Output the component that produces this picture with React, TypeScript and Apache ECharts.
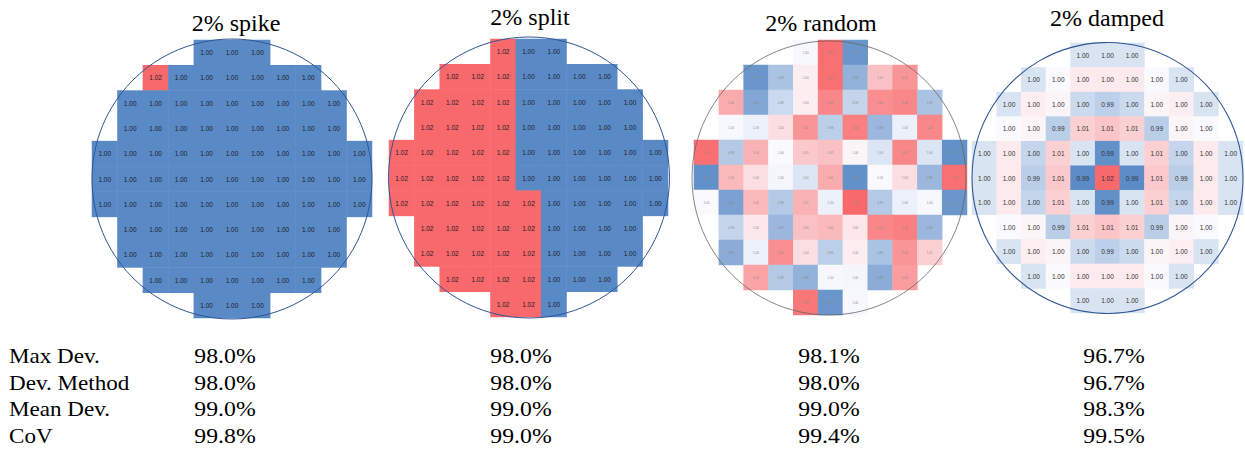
import React, { useEffect, useRef } from "react";
import * as echarts from "echarts";

// Die layout: first and last occupied column of each of the 11 rows
const ROW_SPANS: number[][] = [
  [4, 6], [2, 8], [1, 9], [1, 9], [0, 10], [0, 10], [0, 10], [1, 9], [1, 9], [2, 8], [4, 6],
];
const COLS = ["0", "1", "2", "3", "4", "5", "6", "7", "8", "9", "10"];
const ROWS = ["0", "1", "2", "3", "4", "5", "6", "7", "8", "9", "10"];

const MAP_TITLES = ["2% spike", "2% split", "2% random", "2% damped"];

// Normalised die values, one row per line, columns as in ROW_SPANS
const SPIKE_VALUES: number[][] = [
  [1.0, 1.0, 1.0],
  [1.02, 1.0, 1.0, 1.0, 1.0, 1.0, 1.0],
  [1.0, 1.0, 1.0, 1.0, 1.0, 1.0, 1.0, 1.0, 1.0],
  [1.0, 1.0, 1.0, 1.0, 1.0, 1.0, 1.0, 1.0, 1.0],
  [1.0, 1.0, 1.0, 1.0, 1.0, 1.0, 1.0, 1.0, 1.0, 1.0, 1.0],
  [1.0, 1.0, 1.0, 1.0, 1.0, 1.0, 1.0, 1.0, 1.0, 1.0, 1.0],
  [1.0, 1.0, 1.0, 1.0, 1.0, 1.0, 1.0, 1.0, 1.0, 1.0, 1.0],
  [1.0, 1.0, 1.0, 1.0, 1.0, 1.0, 1.0, 1.0, 1.0],
  [1.0, 1.0, 1.0, 1.0, 1.0, 1.0, 1.0, 1.0, 1.0],
  [1.0, 1.0, 1.0, 1.0, 1.0, 1.0, 1.0],
  [1.0, 1.0, 1.0],
];

const SPLIT_VALUES: number[][] = [
  [1.02, 1.0, 1.0],
  [1.02, 1.02, 1.02, 1.0, 1.0, 1.0, 1.0],
  [1.02, 1.02, 1.02, 1.02, 1.0, 1.0, 1.0, 1.0, 1.0],
  [1.02, 1.02, 1.02, 1.02, 1.0, 1.0, 1.0, 1.0, 1.0],
  [1.02, 1.02, 1.02, 1.02, 1.02, 1.0, 1.0, 1.0, 1.0, 1.0, 1.0],
  [1.02, 1.02, 1.02, 1.02, 1.02, 1.0, 1.0, 1.0, 1.0, 1.0, 1.0],
  [1.02, 1.02, 1.02, 1.02, 1.02, 1.02, 1.0, 1.0, 1.0, 1.0, 1.0],
  [1.02, 1.02, 1.02, 1.02, 1.02, 1.0, 1.0, 1.0, 1.0],
  [1.02, 1.02, 1.02, 1.02, 1.02, 1.0, 1.0, 1.0, 1.0],
  [1.02, 1.02, 1.02, 1.02, 1.0, 1.0, 1.0],
  [1.02, 1.02, 1.0],
];

const RANDOM_VALUES: number[][] = [
  [0.9994, 1.019, 0.982],
  [0.982, 0.99, 1.002, 1.019, 0.987, 1.008, 1.014],
  [1.011, 0.985, 0.994, 1.002, 1.016, 0.993, 1.015, 1.016, 0.99],
  [0.9994, 0.998, 1.004, 1.014, 0.992, 1.017, 0.988, 0.998, 1.016],
  [1.019, 0.991, 1.01, 0.9996, 1.007, 1.008, 1.001, 0.996, 1.016, 0.996, 0.981],
  [0.981, 1.009, 1.004, 0.999, 0.996, 1.011, 0.981, 0.9996, 1.004, 0.988, 1.019],
  [0.9996, 0.984, 1.009, 0.991, 1.01, 0.998, 1.02, 0.991, 0.998, 0.9994, 0.982],
  [0.993, 1.003, 0.988, 1.008, 1.009, 1.003, 1.016, 1.017, 0.988],
  [0.986, 0.998, 1.015, 1.004, 0.992, 1.002, 0.99, 1.014, 1.006],
  [1.012, 0.991, 0.987, 0.9994, 0.999, 0.986, 1.013],
  [1.018, 0.982, 0.9994],
];

const DAMPED_VALUES: number[][] = [
  [0.997, 0.997, 0.997],
  [0.997, 0.9997, 1.0025, 1.0025, 1.0025, 0.9997, 0.997],
  [0.997, 1.002, 1.001, 0.9958, 0.9946, 0.9958, 1.001, 1.002, 0.997],
  [0.9998, 1.001, 0.9944, 1.006, 1.0075, 1.006, 0.9944, 1.001, 0.9998],
  [0.997, 1.0025, 0.9952, 1.006, 0.997, 0.9867, 0.997, 1.006, 0.9952, 1.0025, 0.997],
  [0.997, 1.0025, 0.9944, 1.007, 0.9862, 1.02, 0.9862, 1.007, 0.9944, 1.0025, 0.997],
  [0.997, 1.0025, 0.9952, 1.006, 0.997, 0.9867, 0.997, 1.006, 0.9952, 1.0025, 0.997],
  [0.9998, 1.001, 0.9944, 1.006, 1.0075, 1.006, 0.9944, 1.001, 0.9998],
  [0.997, 1.002, 1.001, 0.9958, 0.9946, 0.9958, 1.001, 1.002, 0.997],
  [0.997, 0.9997, 1.0025, 1.0025, 1.0025, 0.9997, 0.997],
  [0.997, 0.997, 0.997],
];

// Colour scale bounds per map: [min, mid, max]
const SCALE_BOUNDS: number[][] = [
  [1.0, 1.01, 1.02],
  [1.0, 1.01, 1.02],
  [0.98, 1.0, 1.02],
  [0.986, 1.0, 1.02],
];

const METRICS = ["Max Dev.", "Dev. Method", "Mean Dev.", "CoV"];
const SPIKE_SCORES = [98.0, 98.0, 99.0, 99.8];
const SPLIT_SCORES = [98.0, 98.0, 99.0, 99.0];
const RANDOM_SCORES = [98.1, 98.0, 99.0, 99.4];
const DAMPED_SCORES = [96.7, 96.7, 98.3, 99.5];

// ---- layout ----
const GRIDS = [
  { left: 92, top: 40, width: 280, height: 278 },
  { left: 389, top: 39, width: 279, height: 278 },
  { left: 694, top: 40, width: 273, height: 275 },
  { left: 972, top: 43, width: 271, height: 270 },
];
const CIRCLES = [
  { cx: 232, cy: 179, r: 140, stroke: "#2F5597", lineWidth: 1 },
  { cx: 529, cy: 177.5, r: 140.5, stroke: "#2F5597", lineWidth: 1 },
  { cx: 829, cy: 178, r: 137, stroke: "#666666", lineWidth: 0.8 },
  { cx: 1107.5, cy: 178, r: 135.5, stroke: "#2F5597", lineWidth: 1.1 },
];
const TITLE_POS = [
  { x: 236, y: 23 },
  { x: 530, y: 17 },
  { x: 821, y: 23 },
  { x: 1107, y: 18 },
];
const LABEL_STYLE = [
  { fontSize: 6.5, color: "#1c1c2a" },
  { fontSize: 6.5, color: "#1c1c2a" },
  { fontSize: 3, color: "#8a8a8a" },
  { fontSize: 6.5, color: "#333333" },
];
const TABLE_COL_X = [225, 521, 829, 1114];
const TABLE_ROW_Y = [355.5, 382.5, 409, 435.5];

const LOW = [90, 138, 198];
const MID = [252, 252, 255];
const HIGH = [248, 105, 107];

function mix(a: number[], b: number[], t: number): string {
  const c = a.map((v, i) => Math.round(v + (b[i] - v) * t));
  return `rgb(${c[0]},${c[1]},${c[2]})`;
}

// Three-colour ramp sampled at evenly spaced values between min and max
function ramp(min: number, mid: number, max: number): string[] {
  const n = 64;
  const out: string[] = [];
  for (let i = 0; i <= n; i++) {
    const v = min + ((max - min) * i) / n;
    if (v <= mid) out.push(mix(LOW, MID, mid === min ? 1 : (v - min) / (mid - min)));
    else out.push(mix(MID, HIGH, (v - mid) / (max - mid)));
  }
  return out;
}

function toCells(rows: number[][]): number[][] {
  const out: number[][] = [];
  rows.forEach((row, y) => {
    row.forEach((v, i) => out.push([ROW_SPANS[y][0] + i, y, v]));
  });
  return out;
}

const SERIF = "Liberation Serif, Times New Roman, serif";
const SANS = "Liberation Sans, Arial, sans-serif";

export default function App() {
  const ref = useRef<HTMLDivElement>(null);

  useEffect(() => {
    if (!ref.current) return;
    const chart = echarts.init(ref.current, undefined, { renderer: "svg" });
    const maps = [SPIKE_VALUES, SPLIT_VALUES, RANDOM_VALUES, DAMPED_VALUES];
    const scores = [SPIKE_SCORES, SPLIT_SCORES, RANDOM_SCORES, DAMPED_SCORES];

    const graphics: any[] = [];
    CIRCLES.forEach((c) =>
      graphics.push({
        type: "circle",
        z: 50,
        silent: true,
        shape: { cx: c.cx, cy: c.cy, r: c.r },
        style: { fill: "none", stroke: c.stroke, lineWidth: c.lineWidth },
      })
    );
    MAP_TITLES.forEach((t, i) =>
      graphics.push({
        type: "text",
        z: 50,
        x: TITLE_POS[i].x,
        y: TITLE_POS[i].y,
        style: {
          text: t,
          fontSize: 24,
          fontFamily: SERIF,
          fill: "#000",
          align: "center",
          verticalAlign: "middle",
        },
      })
    );
    METRICS.forEach((m, r) => {
      graphics.push({
        type: "text",
        z: 50,
        x: 9,
        y: TABLE_ROW_Y[r],
        scaleX: 1.05,
        style: { text: m, fontSize: 22, fontFamily: SERIF, fill: "#000", align: "left", verticalAlign: "middle" },
      });
      scores.forEach((col, c) =>
        graphics.push({
          type: "text",
          z: 50,
          x: TABLE_COL_X[c],
          y: TABLE_ROW_Y[r],
          scaleX: 1.08,
          style: {
            text: col[r].toFixed(1) + "%",
            fontSize: 22,
            fontFamily: SERIF,
            fill: "#000",
            align: "center",
            verticalAlign: "middle",
          },
        })
      );
    });

    chart.setOption({
      animation: false,
      backgroundColor: "#ffffff",
      grid: GRIDS.map((g) => ({ ...g, containLabel: false })),
      xAxis: GRIDS.map((_, i) => ({
        type: "category",
        gridIndex: i,
        data: COLS,
        show: false,
      })),
      yAxis: GRIDS.map((_, i) => ({
        type: "category",
        gridIndex: i,
        data: ROWS,
        inverse: true,
        show: false,
      })),
      visualMap: SCALE_BOUNDS.map((b, i) => ({
        type: "continuous",
        show: false,
        seriesIndex: i,
        dimension: 2,
        min: b[0],
        max: b[2],
        inRange: { color: ramp(b[0], b[1], b[2]) },
      })),
      series: maps.map((rows, i) => ({
        type: "heatmap",
        xAxisIndex: i,
        yAxisIndex: i,
        data: toCells(rows),
        itemStyle: { borderWidth: 0 },
        emphasis: { disabled: true },
        label: {
          show: true,
          fontSize: LABEL_STYLE[i].fontSize,
          color: LABEL_STYLE[i].color,
          fontFamily: SANS,
          formatter: (p: any) => Number(p.value[2]).toFixed(2),
        },
      })),
      graphic: graphics,
    });

    return () => chart.dispose();
  }, []);

  return (
    <div
      ref={ref}
      style={{ position: "absolute", left: 0, top: 0, width: 1245, height: 451 }}
    />
  );
}
